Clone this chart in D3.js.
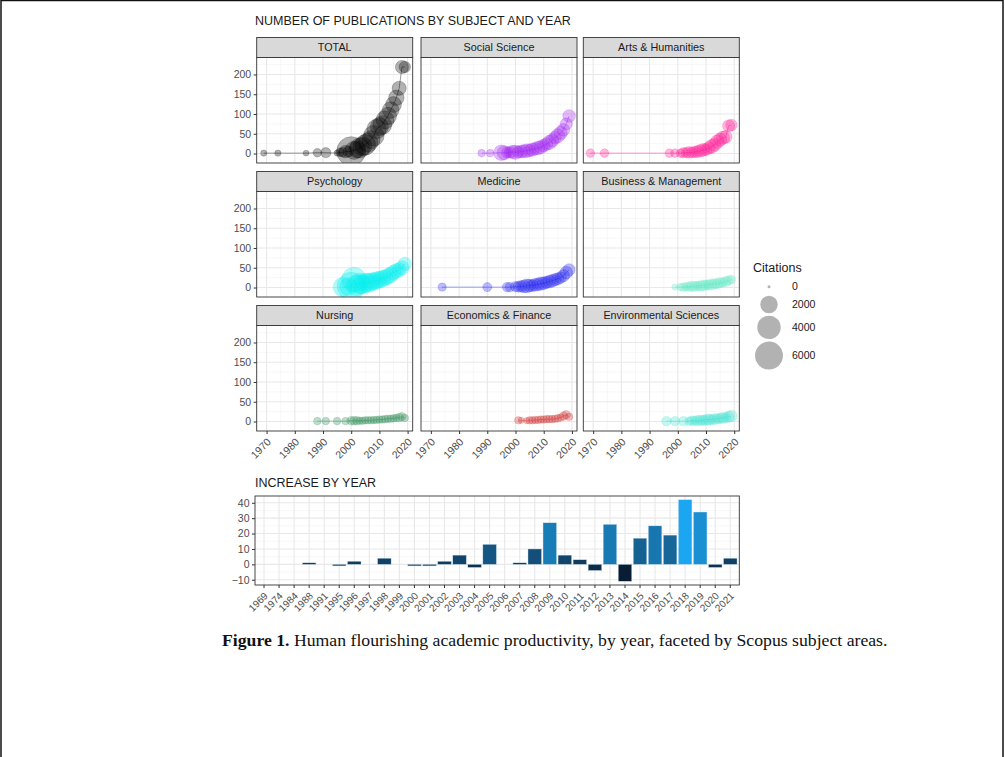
<!DOCTYPE html>
<html>
<head>
<meta charset="utf-8">
<script src="https://cdnjs.cloudflare.com/ajax/libs/d3/7.8.5/d3.min.js"></script>
<style>
  body { margin: 0; background: #fff; }
  svg { display: block; }
  text { font-family: "Liberation Sans", Arial, sans-serif; }
</style>
</head>
<body>
<div id="chart"></div>
<script>
// facet names and colours
const facetNames = ["TOTAL", "Social Science", "Arts & Humanities", "Psychology", "Medicine",
    "Business & Management", "Nursing", "Economics & Finance", "Environmental Sciences"];
const facetColors = ["#000000", "#a020f0", "#ff1493", "#00eeee", "#2020ee",
    "#5ee8c4", "#2e8b57", "#cd3333", "#40e0d0"];

// publications per year (pubs) and citations per year (cites) for each facet
const totalYears = [1969, 1974, 1984, 1988, 1991, 1995, 1996, 1997, 1998, 1999, 2000, 2001, 2002, 2003, 2004, 2005, 2006, 2007, 2008, 2009, 2010, 2011, 2012, 2013, 2014, 2015, 2016, 2017, 2018, 2019];
const totalPubs = [1, 1, 1, 2, 2, 1, 3, 3, 5, 5, 6, 8, 10, 14, 18, 22, 28, 35, 45, 62, 68, 72, 85, 95, 110, 124, 141, 165, 219, 219];
const totalCites = [100, 100, 80, 300, 500, 100, 300, 400, 900, 600, 6500, 2200, 1800, 2800, 2400, 3000, 2600, 2200, 3000, 2600, 2200, 2400, 2200, 2000, 1800, 1600, 1500, 1200, 1000, 700];

const socYears = [1988, 1991, 1995, 1996, 1997, 1998, 1999, 2000, 2001, 2002, 2003, 2004, 2005, 2006, 2007, 2008, 2009, 2010, 2011, 2012, 2013, 2014, 2015, 2016, 2017, 2018, 2019];
const socPubs = [1, 1, 2, 2, 3, 3, 4, 3, 4, 5, 6, 7, 8, 10, 12, 14, 16, 20, 24, 28, 33, 40, 45, 52, 60, 75, 95];
const socCites = [200, 200, 1500, 1200, 600, 700, 1000, 1200, 800, 900, 1000, 1100, 900, 1000, 900, 1100, 1000, 900, 900, 1200, 1000, 900, 1200, 1000, 900, 800, 900];

const artsYears = [1969, 1974, 1997, 1999, 2001, 2002, 2003, 2004, 2005, 2006, 2007, 2008, 2009, 2010, 2011, 2012, 2013, 2014, 2015, 2016, 2017, 2018, 2019];
const artsPubs = [1, 1, 1, 1, 1, 2, 2, 3, 3, 4, 5, 7, 9, 10, 14, 18, 22, 30, 35, 40, 42, 70, 72];
const artsCites = [300, 300, 300, 300, 300, 500, 500, 700, 600, 700, 800, 900, 900, 800, 900, 1100, 1000, 1100, 1000, 1000, 900, 800, 700];

const psyYears = [1997, 1999, 2000, 2001, 2002, 2003, 2004, 2005, 2006, 2007, 2008, 2009, 2010, 2011, 2012, 2013, 2014, 2015, 2016, 2017, 2018, 2019];
const psyPubs = [1, 2, 3, 20, 5, 10, 8, 12, 12, 14, 16, 18, 20, 22, 25, 28, 32, 38, 42, 45, 50, 60];
const psyCites = [2500, 2000, 6000, 4500, 3000, 3000, 2500, 2500, 2500, 2200, 2000, 2000, 1800, 1800, 1600, 1600, 1500, 1400, 1300, 1200, 1200, 1000];

const medYears = [1974, 1990, 1997, 1998, 2000, 2001, 2002, 2003, 2004, 2005, 2006, 2007, 2008, 2009, 2010, 2011, 2012, 2013, 2014, 2015, 2016, 2017, 2018, 2019];
const medPubs = [1, 1, 1, 1, 2, 2, 3, 3, 4, 5, 5, 7, 8, 10, 11, 13, 15, 17, 20, 22, 25, 30, 38, 45];
const medCites = [250, 350, 400, 400, 500, 600, 700, 900, 1100, 900, 800, 900, 900, 1000, 900, 800, 900, 900, 800, 800, 700, 800, 900, 800];

const busYears = [1999, 2001, 2002, 2003, 2004, 2005, 2006, 2007, 2008, 2009, 2010, 2011, 2012, 2013, 2014, 2015, 2016, 2017, 2018, 2019];
const busPubs = [1, 1, 1, 2, 2, 3, 3, 4, 4, 5, 6, 7, 8, 9, 10, 12, 13, 15, 18, 20];
const busCites = [100, 200, 300, 300, 400, 500, 500, 400, 500, 600, 500, 500, 600, 500, 500, 500, 400, 500, 400, 300];

const nurYears = [1988, 1991, 1995, 1998, 2000, 2001, 2002, 2003, 2004, 2005, 2006, 2007, 2008, 2009, 2010, 2011, 2012, 2013, 2014, 2015, 2016, 2017, 2018, 2019];
const nurPubs = [1, 1, 1, 1, 2, 2, 2, 2, 2, 3, 3, 3, 4, 4, 5, 5, 6, 7, 7, 8, 9, 10, 12, 9];
const nurCites = [200, 200, 200, 200, 300, 300, 300, 200, 200, 200, 200, 200, 200, 200, 200, 200, 200, 200, 200, 200, 200, 300, 300, 200];

const ecoYears = [2001, 2002, 2004, 2005, 2006, 2007, 2008, 2009, 2010, 2011, 2012, 2013, 2014, 2015, 2016, 2017, 2018, 2019];
const ecoPubs = [3, 3, 2, 3, 3, 4, 4, 5, 5, 6, 6, 6, 7, 8, 10, 14, 17, 12];
const ecoCites = [200, 100, 100, 200, 200, 200, 200, 200, 200, 200, 200, 200, 200, 200, 200, 300, 300, 200];

const envYears = [1996, 1999, 2002, 2004, 2005, 2006, 2007, 2008, 2009, 2010, 2011, 2012, 2013, 2014, 2015, 2016, 2017, 2018, 2019];
const envPubs = [1, 1, 1, 1, 2, 2, 2, 3, 3, 4, 5, 5, 6, 7, 8, 9, 10, 12, 14];
const envCites = [400, 400, 400, 300, 400, 400, 500, 500, 500, 600, 600, 500, 600, 500, 500, 600, 500, 600, 700];

// increase by year (bottom bar chart)
const barYears = ["1969", "1974", "1984", "1988", "1991", "1995", "1996", "1997", "1998", "1999",
    "2000", "2001", "2002", "2003", "2004", "2005", "2006", "2007", "2008", "2009", "2010",
    "2011", "2012", "2013", "2014", "2015", "2016", "2017", "2018", "2019", "2020", "2021"];
const barValues = [0, 0, 0, 1, 0, -1, 2, 0, 4, 0,
    -1, -1, 2, 6, -2, 13, 0, 1, 10, 27, 6,
    3, -4, 26, -11, 17, 25, 19, 42, 34, -2, 4];

// tick labels
const yTicks = [0, 50, 100, 150, 200];
const xTicks = [1970, 1980, 1990, 2000, 2010, 2020];
const barTicks = [-10, 0, 10, 20, 30, 40];
const legendBreaks = [0, 2000, 4000, 6000];

const facetData = [
    [totalYears, totalPubs, totalCites], [socYears, socPubs, socCites], [artsYears, artsPubs, artsCites],
    [psyYears, psyPubs, psyCites], [medYears, medPubs, medCites], [busYears, busPubs, busCites],
    [nurYears, nurPubs, nurCites], [ecoYears, ecoPubs, ecoCites], [envYears, envPubs, envCites]
].map(([ys, ps, cs]) => ys.map((yr, i) => ({ year: yr, pubs: ps[i], cites: cs[i] })));

const W = 1005, H = 757;
const svg = d3.select("#chart").append("svg").attr("width", W).attr("height", H);

// page frame
svg.append("rect").attr("x", 1).attr("y", 0.5).attr("width", 1002).attr("height", 770)
    .attr("fill", "none").attr("stroke", "#111").attr("stroke-width", 1.5);

// main title
svg.append("text").attr("x", 255).attr("y", 24.5)
    .attr("font-size", 12.5).attr("fill", "#1a1a1a")
    .text("NUMBER OF PUBLICATIONS BY SUBJECT AND YEAR");

// facet layout
const panelW = 156, panelH = 105.5, stripH = 20;
const colLeft = [256.7, 421, 583.3];
const rowTop = [37.5, 171.5, 305.5];

const x = d3.scaleLinear().domain([1966.5, 2021.8]).range([0, panelW]);
const y = d3.scaleLinear().domain([-24, 243]).range([panelH, 0]);
const r = d3.scaleSqrt().domain([0, 7000]).range([1.5, 15]);

const line = d3.line().x(d => x(d.year)).y(d => y(d.pubs));

function styleTicks(ax, size) {
    ax.select(".domain").remove();
    ax.selectAll("line").attr("stroke", "#333");
    ax.selectAll("text").attr("font-size", size).attr("fill", "#4d4d4d")
        .style("font-family", "'Liberation Sans', Arial, sans-serif");
}

facetData.forEach((data, i) => {
    const col = i % 3, row = Math.floor(i / 3);
    const color = facetColors[i];
    const g = svg.append("g")
        .attr("transform", `translate(${colLeft[col]},${rowTop[row] + stripH})`);

    g.append("rect").attr("width", panelW).attr("height", panelH).attr("fill", "#fff");

    // grid
    const clip = "clip" + i;
    g.append("clipPath").attr("id", clip).append("rect").attr("width", panelW).attr("height", panelH);
    const grid = g.append("g");
    grid.selectAll(".vminor").data(d3.range(1975, 2020, 10)).join("line")
        .attr("x1", d => x(d)).attr("x2", d => x(d)).attr("y1", 0).attr("y2", panelH)
        .attr("stroke", "#f2f2f2").attr("stroke-width", 0.6);
    grid.selectAll(".hminor").data(d3.range(25, 243, 50)).join("line")
        .attr("y1", d => y(d)).attr("y2", d => y(d)).attr("x1", 0).attr("x2", panelW)
        .attr("stroke", "#f2f2f2").attr("stroke-width", 0.6);
    grid.selectAll(".vmajor").data(xTicks).join("line")
        .attr("x1", d => x(d)).attr("x2", d => x(d)).attr("y1", 0).attr("y2", panelH)
        .attr("stroke", "#e8e8e8").attr("stroke-width", 1.1);
    grid.selectAll(".hmajor").data(yTicks).join("line")
        .attr("y1", d => y(d)).attr("y2", d => y(d)).attr("x1", 0).attr("x2", panelW)
        .attr("stroke", "#e8e8e8").attr("stroke-width", 1.1);

    const marks = g.append("g").attr("clip-path", `url(#${clip})`);
    marks.append("path").datum(data).attr("d", line)
        .attr("fill", "none").attr("stroke", color).attr("stroke-opacity", 0.45).attr("stroke-width", 0.9);
    marks.selectAll("circle").data(data).join("circle")
        .attr("cx", d => x(d.year)).attr("cy", d => y(d.pubs)).attr("r", d => r(d.cites))
        .attr("fill", color).attr("fill-opacity", 0.3)
        .attr("stroke", color).attr("stroke-opacity", 0.25).attr("stroke-width", 0.8);

    // border
    g.append("rect").attr("width", panelW).attr("height", panelH)
        .attr("fill", "none").attr("stroke", "#333").attr("stroke-width", 0.9);

    // strip
    g.append("rect").attr("y", -stripH).attr("width", panelW).attr("height", stripH)
        .attr("fill", "#d9d9d9").attr("stroke", "#333").attr("stroke-width", 0.9);
    g.append("text").attr("x", panelW / 2).attr("y", -stripH / 2).attr("dy", "0.35em")
        .attr("text-anchor", "middle").attr("font-size", 10.8).attr("fill", "#1a1a1a")
        .text(facetNames[i]);

    if (col === 0) {
        const ax = g.append("g").call(d3.axisLeft(y).tickValues(yTicks).tickSize(3).tickPadding(2.5));
        styleTicks(ax, 10.5);
    }
    if (row === 2) {
        const ax = g.append("g").attr("transform", `translate(0,${panelH})`)
            .call(d3.axisBottom(x).tickValues(xTicks).tickFormat(d3.format("d")).tickSize(3));
        styleTicks(ax, 10.5);
        ax.selectAll("text")
            .attr("x", 0).attr("y", 0).attr("dy", "0.35em")
            .attr("text-anchor", "end")
            .attr("transform", "translate(2,9) rotate(-45)");
    }
});

// legend
const lg = svg.append("g").attr("transform", "translate(753,0)");
lg.append("text").attr("x", 0).attr("y", 272).attr("font-size", 12.5).attr("fill", "#1a1a1a").text("Citations");
let ly = 279;
legendBreaks.forEach(v => {
    const rad = r(v);
    const kh = Math.max(15.5, 2 * rad + 2.5);
    const cy = ly + kh / 2;
    lg.append("circle").attr("cx", 16).attr("cy", cy).attr("r", rad)
        .attr("fill", "#000").attr("fill-opacity", 0.3);
    lg.append("text").attr("x", 39).attr("y", cy).attr("dy", "0.35em")
        .attr("font-size", 10.5).attr("fill", "#1a1a1a").text(v);
    ly += kh;
});

// bar chart
svg.append("text").attr("x", 255).attr("y", 486.5)
    .attr("font-size", 12.5).attr("fill", "#1a1a1a").text("INCREASE BY YEAR");

const bLeft = 255, bTop = 496, bW = 484.3, bH = 89;
const bg = svg.append("g").attr("transform", `translate(${bLeft},${bTop})`);
const xb = d3.scaleBand().domain(barYears).range([0, bW]).paddingInner(0.1).paddingOuter(0.15);
const yb = d3.scaleLinear().domain([-13.4, 44.4]).range([bH, 0]);
const fill = d3.scaleLinear().domain([-11, 42]).range(["#081d33", "#1ba6f2"]).interpolate(d3.interpolateLab);

bg.append("rect").attr("width", bW).attr("height", bH).attr("fill", "#fff");
bg.selectAll(".hminor").data(d3.range(-5, 44, 10)).join("line")
    .attr("y1", d => yb(d)).attr("y2", d => yb(d)).attr("x1", 0).attr("x2", bW)
    .attr("stroke", "#f2f2f2").attr("stroke-width", 0.6);
bg.selectAll(".hmajor").data(barTicks).join("line")
    .attr("y1", d => yb(d)).attr("y2", d => yb(d)).attr("x1", 0).attr("x2", bW)
    .attr("stroke", "#e8e8e8").attr("stroke-width", 1.1);
bg.selectAll(".vmajor").data(barYears).join("line")
    .attr("x1", d => xb(d) + xb.bandwidth() / 2).attr("x2", d => xb(d) + xb.bandwidth() / 2)
    .attr("y1", 0).attr("y2", bH)
    .attr("stroke", "#e8e8e8").attr("stroke-width", 1.1);

bg.selectAll(".bar").data(barYears.map((yr, i) => ({ year: yr, v: barValues[i] })).filter(d => d.v !== 0))
    .join("rect")
    .attr("x", d => xb(d.year)).attr("width", xb.bandwidth())
    .attr("y", d => yb(Math.max(0, d.v))).attr("height", d => Math.abs(yb(d.v) - yb(0)))
    .attr("fill", d => fill(d.v))
    .attr("stroke", "#cfe3f0").attr("stroke-width", 0.4);

bg.append("rect").attr("width", bW).attr("height", bH)
    .attr("fill", "none").attr("stroke", "#333").attr("stroke-width", 0.9);

const bya = bg.append("g").call(d3.axisLeft(yb).tickValues(barTicks).tickSize(3).tickPadding(2.5));
styleTicks(bya, 10.5);

const bxa = bg.append("g").attr("transform", `translate(0,${bH})`)
    .call(d3.axisBottom(xb).tickSize(3));
styleTicks(bxa, 10);
bxa.selectAll("text")
    .attr("x", 0).attr("y", 0).attr("dy", "0.35em")
    .attr("text-anchor", "end")
    .attr("transform", "translate(2,9) rotate(-45)");

// caption
const cap = svg.append("text").attr("x", 222).attr("y", 646)
    .attr("fill", "#111").style("font-family", "'Liberation Serif', 'DejaVu Serif', serif")
    .attr("font-size", 15);
cap.append("tspan").attr("font-weight", "bold").text("Figure 1.");
cap.append("tspan").text(" Human flourishing academic productivity, by year, faceted by Scopus subject areas.");
const capLen = cap.node().getComputedTextLength();
cap.attr("font-size", 15 * 666 / capLen);
</script>
</body>
</html>
